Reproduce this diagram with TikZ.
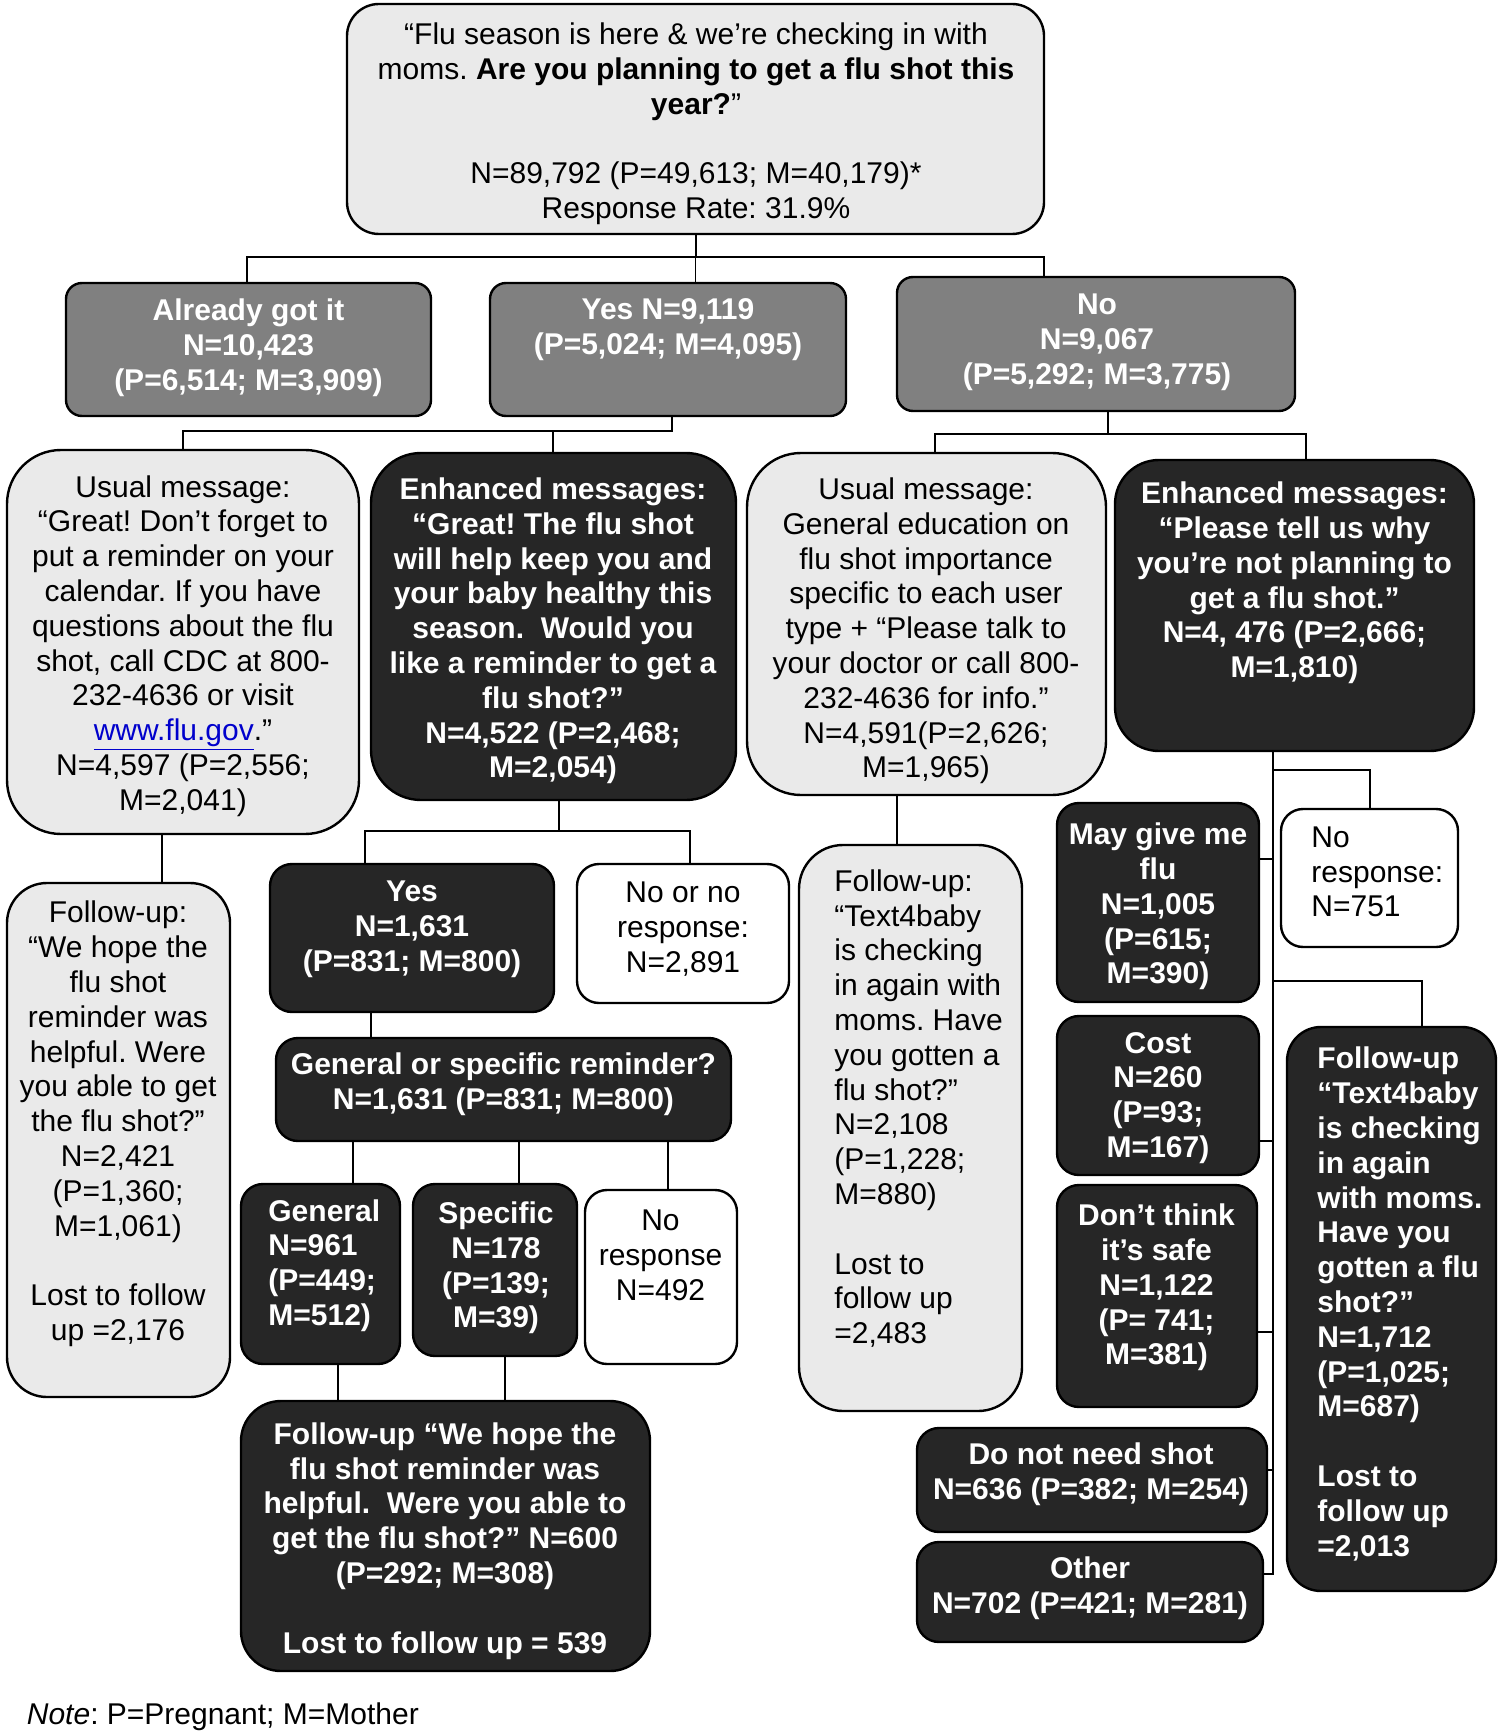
\documentclass[tikz,border=0pt]{standalone}
\usepackage{fontspec}
\setmainfont{Liberation Sans}
\usetikzlibrary{fit}
\frenchspacing
\definecolor{lightfill}{RGB}{234,234,234}
\definecolor{midfill}{RGB}{128,128,128}
\definecolor{darkfill}{RGB}{38,38,38}
\definecolor{linkblue}{RGB}{0,0,204}
\begin{document}
\begin{tikzpicture}[x=0.5pt,y=-0.5pt,
  box/.style={draw=black, line width=1.2pt, inner sep=0pt},
  lightbox/.style={box, fill=lightfill},
  midbox/.style={box, fill=midfill},
  darkbox/.style={box, fill=darkfill},
  whitebox/.style={box, fill=white},
  txt/.style={inner sep=0pt, align=center, yshift=-2pt, font=\fontsize{15}{17.4}\selectfont},
  ltxt/.style={inner sep=0pt, align=left, anchor=west, yshift=-2pt, font=\fontsize{15}{17.4}\selectfont},
  wtxt/.style={txt, text=white, font=\fontsize{15}{17.4}\selectfont\bfseries},
  lwtxt/.style={ltxt, text=white, font=\fontsize{15}{17.4}\selectfont\bfseries},
  conn/.style={draw=black, line width=1pt},
  thin/.style={draw=black, line width=0.5pt}
]
\useasboundingbox[fill=white] (0,0) rectangle (1500,1732);

% ---------- boxes ----------
\node[lightbox, rounded corners=16pt, fit={(347,4) (1044,234)}] (top) {};
\node[midbox, rounded corners=8pt, fit={(66,283) (431,416)}] (already) {};
\node[midbox, rounded corners=8pt, fit={(490,283) (846,416)}] (yes1) {};
\node[midbox, rounded corners=8pt, fit={(897,277) (1295,411)}] (no1) {};
\node[lightbox, rounded corners=27pt, fit={(7,450) (359,834)}] (usual1) {};
\node[darkbox, rounded corners=25pt, fit={(371,453) (736,800)}] (enh1) {};
\node[lightbox, rounded corners=27pt, fit={(747,453) (1106,795)}] (usual2) {};
\node[darkbox, rounded corners=22pt, fit={(1115,460) (1474,751)}] (enh2) {};
\node[lightbox, rounded corners=20pt, fit={(7,883) (230,1397)}] (fu1) {};
\node[darkbox, rounded corners=11pt, fit={(270,864) (554,1012)}] (yes2) {};
\node[whitebox, rounded corners=11pt, fit={(577,864) (789,1003)}] (nono) {};
\node[lightbox, rounded corners=22pt, fit={(799,845) (1022,1411)}] (fu2) {};
\node[darkbox, rounded corners=11pt, fit={(276,1038) (731,1141)}] (genspec) {};
\node[darkbox, rounded corners=11pt, fit={(241,1184) (400,1364)}] (general) {};
\node[darkbox, rounded corners=11pt, fit={(413,1184) (577,1356)}] (specific) {};
\node[whitebox, rounded corners=11pt, fit={(585,1190) (737,1364)}] (noresp) {};
\node[darkbox, rounded corners=20pt, fit={(241,1401) (650,1671)}] (fu4) {};
\node[darkbox, rounded corners=11pt, fit={(1057,803) (1259,1002)}] (may) {};
\node[darkbox, rounded corners=11pt, fit={(1057,1016) (1259,1175)}] (cost) {};
\node[darkbox, rounded corners=11pt, fit={(1057,1185) (1257,1407)}] (dont) {};
\node[whitebox, rounded corners=11pt, fit={(1281,809) (1458,947)}] (noresp751) {};
\node[darkbox, rounded corners=17pt, fit={(1287,1027) (1496,1591)}] (fu3) {};
\node[darkbox, rounded corners=11pt, fit={(917,1428) (1267,1532)}] (donot) {};
\node[darkbox, rounded corners=11pt, fit={(917,1542) (1263,1642)}] (other) {};

% ---------- connectors ----------
\coordinate (t1) at (247,257);
\coordinate (t2) at (1044,257);
\draw[conn] (top.south) -- (top.south |- t1);
\draw[thin] (top.south |- t1) -- (top.south |- yes1.north);
\draw[conn] (already.north -| t1) -- (t1) -- (t2) -- (t2 |- no1.north);

\coordinate (u1) at (183,431);
\coordinate (u2) at (672,431);
\coordinate (u3) at (553,431);
\draw[conn] (u2 |- yes1.south) -- (u2) -- (u1) -- (u1 |- usual1.north);
\draw[conn] (u3) -- (u3 |- enh1.north);

\coordinate (n1) at (935,434);
\coordinate (n2) at (1108,434);
\coordinate (n3) at (1306,434);
\draw[conn] (n2 |- no1.south) -- (n2);
\draw[conn] (n1 |- usual2.north) -- (n1) -- (n3) -- (n3 |- enh2.north);

\coordinate (f1) at (162,850);
\draw[conn] (f1 |- usual1.south) -- (f1 |- fu1.north);

\coordinate (e1) at (559,831);
\coordinate (e2) at (365,831);
\coordinate (e3) at (690,831);
\draw[conn] (e1 |- enh1.south) -- (e1);
\draw[conn] (e2 |- yes2.north) -- (e2) -- (e3) -- (e3 |- nono.north);

\coordinate (f2) at (897,820);
\draw[conn] (f2 |- usual2.south) -- (f2 |- fu2.north);

\coordinate (g0) at (371,1020);
\draw[conn] (g0 |- yes2.south) -- (g0 |- genspec.north);
\coordinate (g1) at (353,1160);
\coordinate (g2) at (519,1160);
\coordinate (g3) at (668,1160);
\draw[conn] (g1 |- genspec.south) -- (g1 |- general.north);
\draw[conn] (g2 |- genspec.south) -- (g2 |- specific.north);
\draw[conn] (g3 |- genspec.south) -- (g3 |- noresp.north);

\coordinate (h1) at (338,1380);
\coordinate (h2) at (505,1380);
\draw[conn] (h1 |- general.south) -- (h1 |- fu4.north);
\draw[conn] (h2 |- specific.south) -- (h2 |- fu4.north);

\coordinate (r0) at (1273,760);
\coordinate (r1) at (1273,1574);
\draw[conn] (r0 |- enh2.south) -- (r1) -- (r1 -| other.east);
\coordinate (b1) at (1273,770);
\coordinate (b2) at (1370,770);
\draw[conn] (b1) -- (b2) -- (b2 |- noresp751.north);
\coordinate (b3) at (1273,981);
\coordinate (b4) at (1422,981);
\draw[conn] (b3) -- (b4) -- (b4 |- fu3.north);
\coordinate (s1) at (1273,859);
\coordinate (s2) at (1273,1141);
\coordinate (s3) at (1273,1332);
\coordinate (s4) at (1273,1470);
\draw[conn] (s1) -- (s1 -| may.east);
\draw[conn] (s2) -- (s2 -| cost.east);
\draw[conn] (s3) -- (s3 -| dont.east);
\draw[conn] (s4) -- (s4 -| donot.east);

% ---------- texts ----------
\node[txt] (ttop) at (696,120) {“Flu season is here \& we’re checking in with\\
moms. \textbf{Are you planning to get a flu shot this}\\
\textbf{year?}”\\[17.4pt]
N=89,792 (P=49,613; M=40,179)*\\
Response Rate: 31.9\%};
\node[wtxt] (talready) at (248.5,343.5) {Already got it\\N=10,423\\(P=6,514; M=3,909)};
\node[wtxt] (tyes1) at (668,326) {Yes N=9,119\\(P=5,024; M=4,095)};
\node[wtxt] (tno1) at (1097,338) {No\\N=9,067\\(P=5,292; M=3,775)};
\node[txt] (tusual1) at (183,642) {Usual message:\\
“Great! Don’t forget to\\
put a reminder on your\\
calendar. If you have\\
questions about the flu\\
shot, call CDC at 800-\\
232-4636 or visit\\
\textcolor{linkblue}{\underline{www.flu.gov}}.”\\
N=4,597 (P=2,556;\\
M=2,041)};
\node[wtxt] (tenh1) at (553,627) {Enhanced messages:\\
“Great! The flu shot\\
will help keep you and\\
your baby healthy this\\
season.\ \ Would you\\
like a reminder to get a\\
flu shot?”\\
N=4,522 (P=2,468;\\
M=2,054)};
\node[txt] (tusual2) at (926,627) {Usual message:\\
General education on\\
flu shot importance\\
specific to each user\\
type + “Please talk to\\
your doctor or call 800-\\
232-4636 for info.”\\
N=4,591(P=2,626;\\
M=1,965)};
\node[wtxt] (tenh2) at (1294.5,579) {Enhanced messages:\\
“Please tell us why\\
you’re not planning to\\
get a flu shot.”\\
N=4, 476 (P=2,666;\\
M=1,810)};
\node[txt] (tfu1) at (118,1120) {Follow-up:\\
“We hope the\\
flu shot\\
reminder was\\
helpful. Were\\
you able to get\\
the flu shot?”\\
N=2,421\\
(P=1,360;\\
M=1,061)\\[17.4pt]
Lost to follow\\
up =2,176};
\node[wtxt] (tyes2) at (412,925) {Yes\\N=1,631\\(P=831; M=800)};
\node[txt] (tnono) at (683,925) {No or no\\response:\\N=2,891};
\node[wtxt] (tgenspec) at (503.5,1080) {General or specific reminder?\\N=1,631 (P=831; M=800)};
\node[lwtxt] (tgeneral) at (268,1261.5) {General\\N=961\\(P=449;\\M=512)};
\node[wtxt] (tspecific) at (496,1264) {Specific\\N=178\\(P=139;\\M=39)};
\node[txt] (tnoresp) at (660.5,1251.5) {No\\response\\N=492};
\node[wtxt] (tfu4) at (445,1537) {Follow-up “We hope the\\
flu shot reminder was\\
helpful.\ \ Were you able to\\
get the flu shot?” N=600\\
(P=292; M=308)\\[17.4pt]
Lost to follow up = 539};
\node[ltxt] (tfu2) at (834,1104.6) {Follow-up:\\
“Text4baby\\
is checking\\
in again with\\
moms. Have\\
you gotten a\\
flu shot?”\\
N=2,108\\
(P=1,228;\\
M=880)\\[17.4pt]
Lost to\\
follow up\\
=2,483};
\node[wtxt] (tmay) at (1158,902.5) {May give me\\flu\\N=1,005\\(P=615;\\M=390)};
\node[wtxt] (tcost) at (1158,1094) {Cost\\N=260\\(P=93;\\M=167)};
\node[wtxt] (tdont) at (1156.5,1283.5) {Don’t think\\it’s safe\\N=1,122\\(P= 741;\\M=381)};
\node[ltxt] (tnoresp751) at (1311,868) {No\\response:\\N=751};
\node[lwtxt] (tfu3) at (1317,1300) {Follow-up\\
“Text4baby\\
is checking\\
in again\\
with moms.\\
Have you\\
gotten a flu\\
shot?”\\
N=1,712\\
(P=1,025;\\
M=687)\\[17.4pt]
Lost to\\
follow up\\
=2,013};
\node[wtxt] (tdonot) at (1091,1470) {Do not need shot\\N=636 (P=382; M=254)};
\node[wtxt] (tother) at (1090,1584) {Other\\N=702 (P=421; M=281)};
\node[ltxt] (tnote) at (26.5,1713) {\textit{Note}: P=Pregnant; M=Mother};
\end{tikzpicture}
\end{document}
